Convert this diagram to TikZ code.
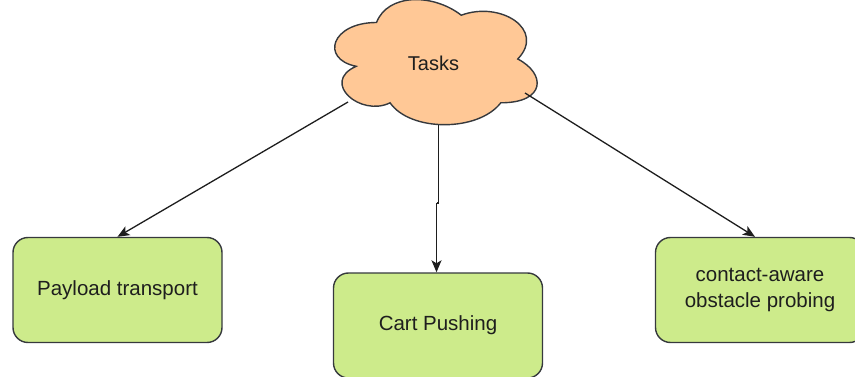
\documentclass[tikz,border=0pt]{standalone}
\usepackage{fontspec}
\setmainfont{Liberation Sans}
\usetikzlibrary{arrows.meta,calc}
\definecolor{cloudfill}{HTML}{FFC896}
\definecolor{boxfill}{HTML}{CDEB8B}
\definecolor{edge}{HTML}{36393D}
\definecolor{txt}{HTML}{1E1E1E}
\begin{document}
\begin{tikzpicture}[x=1pt,y=-1pt,
  taskbox/.style={draw=edge, fill=boxfill, line width=1.4pt, rounded corners=15pt,
    minimum width=209pt, minimum height=105pt, inner sep=0pt, align=center,
    text=txt, font=\fontsize{20.5}{26}\selectfont},
  conn/.style={draw=txt, line width=1.3pt, -{Stealth[length=12pt,width=10pt,inset=3pt]}},
  plain/.style={draw=txt, line width=1.3pt}
]
\useasboundingbox (0,0) rectangle (855,377);
% cloud
\path[draw=edge, fill=cloudfill, line width=1.4pt]
  (376.5,22.5)
  .. controls (331.3,22.5) and (320,59) .. (356.16,66.3)
  .. controls (320,82.36) and (360.68,117.4) .. (390.06,102.8)
  .. controls (410.4,132) and (478.2,132) .. (500.8,102.8)
  .. controls (546,102.8) and (546,73.6) .. (517.75,59)
  .. controls (546,29.8) and (500.8,0.6) .. (461.25,15.2)
  .. controls (433,-6.7) and (387.8,-6.7) .. (376.5,22.5) -- cycle;
\node[text=txt, font=\fontsize{20}{24}\selectfont] (tasks) at (433.5,63) {Tasks};
\coordinate (cl) at (348,102);
\coordinate (cm) at (438.5,125);
\coordinate (cr) at (525,93);
% boxes
\node[taskbox] (box1) at (117.5,290) {Payload transport};
\node[taskbox] (box2) at (438,325.5) {Cart Pushing};
\node[taskbox] (box3) at (760,290) {contact-aware\\obstacle probing};
% connectors
\draw[conn] (cl) -- (box1.north);
\coordinate (j1) at (438.5,203);
\coordinate (j2) at (436.5,203);
\draw[plain] (cm) -- (j1) -- (j2);
\draw[conn] (j2) -- (j2 |- box2.north);
\draw[conn] (cr) -- ($(box3.north)+(-5,0)$);
\end{tikzpicture}
\end{document}
